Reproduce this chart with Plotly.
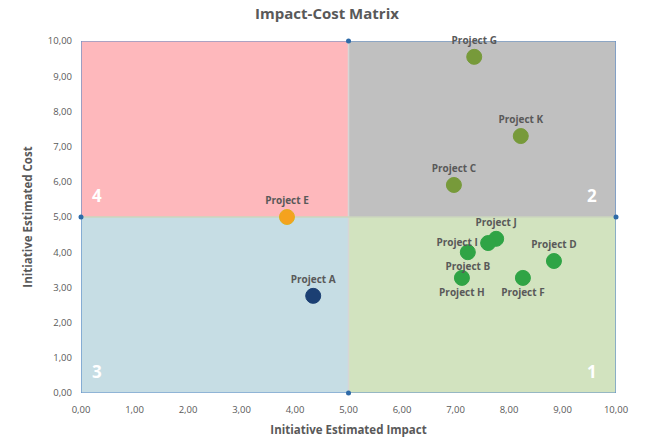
import plotly.graph_objects as go

projects = ["Project A", "Project E", "Project G", "Project K", "Project C",
            "Project J", "Project I", "Project B", "Project D", "Project H", "Project F"]
impact = [4.34, 3.85, 7.35, 8.22, 6.97, 7.76, 7.61, 7.23, 8.84, 7.12, 8.26]
cost = [2.76, 5.00, 9.55, 7.30, 5.91, 4.38, 4.26, 4.00, 3.75, 3.27, 3.27]
label_pos = ["top center", "top center", "top center", "top center", "top center",
             "top center", "middle left", "bottom center", "top center",
             "bottom center", "bottom center"]

def colour(x, y):
    if x < 5 and y < 5:
        return "#1B3F73"
    if x < 5:
        return "#F5A21E"
    if y > 5:
        return "#779A3A"
    return "#2FA445"

colors = [colour(x, y) for x, y in zip(impact, cost)]
line_cols = ["#E0B020" if c == "#F5A21E" else c for c in colors]

quad_numbers = ["1", "2", "3", "4"]
quad_x = [9.55, 9.55, 0.3, 0.3]
quad_y = [0.6, 5.6, 0.6, 5.6]

mid_x = [5, 0, 10, 5]
mid_y = [10, 5, 5, 0]

fig = go.Figure()

# quadrant backgrounds
quads = [(5, 10, 0, 5, "#D2E3BF"), (5, 10, 5, 10, "#C0C0C0"),
         (0, 5, 0, 5, "#C6DDE4"), (0, 5, 5, 10, "#FEB8BC")]
for x0, x1, y0, y1, fc in quads:
    fig.add_shape(type="rect", x0=x0, x1=x1, y0=y0, y1=y1, xref="x", yref="y",
                  fillcolor=fc, line=dict(width=0), layer="below")
fig.add_shape(type="line", x0=5, x1=5, y0=0, y1=10, line=dict(color="#D6D6D6", width=1.5), layer="below")
fig.add_shape(type="line", x0=0, x1=10, y0=5, y1=5, line=dict(color="#CBD6BE", width=1.5), layer="below")
fig.add_shape(type="rect", x0=0, x1=10, y0=0, y1=10, line=dict(color="#5B8CC8", width=1.2), layer="below")

fig.add_trace(go.Scatter(x=mid_x, y=mid_y, mode="markers",
                         marker=dict(size=5, color="#2E6AA8"), cliponaxis=False,
                         hoverinfo="skip", showlegend=False))

fig.add_trace(go.Scatter(
    x=impact, y=cost, mode="markers+text", text=projects, textposition=label_pos,
    textfont=dict(family="Open Sans", size=10, color="#595959", weight="bold"),
    marker=dict(size=15, color=colors, line=dict(color=line_cols, width=1)),
    cliponaxis=False, showlegend=False))

for n, x, y in zip(quad_numbers, quad_x, quad_y):
    fig.add_annotation(x=x, y=y, text=n, showarrow=False, xref="x", yref="y",
                       font=dict(family="Open Sans", size=17, color="white", weight="bold"))

fig.update_layout(
    width=654, height=439,
    margin=dict(l=81, r=38, t=41, b=46),
    paper_bgcolor="white", plot_bgcolor="white",
    separators=",.",
    title=dict(text="Impact-Cost Matrix", x=0.5, xanchor="center", y=0.98, yanchor="top",
               font=dict(family="Open Sans", size=15, color="#595959", weight="bold")),
    font=dict(family="Open Sans", color="#595959"),
)
fig.update_xaxes(range=[0, 10], dtick=1, tickformat=".2f", showgrid=False, zeroline=False,
                 automargin=False,
                 tickfont=dict(size=9.5, color="#595959"), ticklabelstandoff=9,
                 title=dict(text="Initiative Estimated Impact", standoff=11,
                            font=dict(size=11.5, color="#595959", weight="bold")))
fig.update_yaxes(range=[0, 10], dtick=1, tickformat=".2f", showgrid=False, zeroline=False,
                 automargin=False,
                 tickfont=dict(size=9.5, color="#595959"), ticklabelstandoff=8,
                 title=dict(text="Initiative Estimated Cost", standoff=12,
                            font=dict(size=11.5, color="#595959", weight="bold")))

fig.write_html("out.html")
